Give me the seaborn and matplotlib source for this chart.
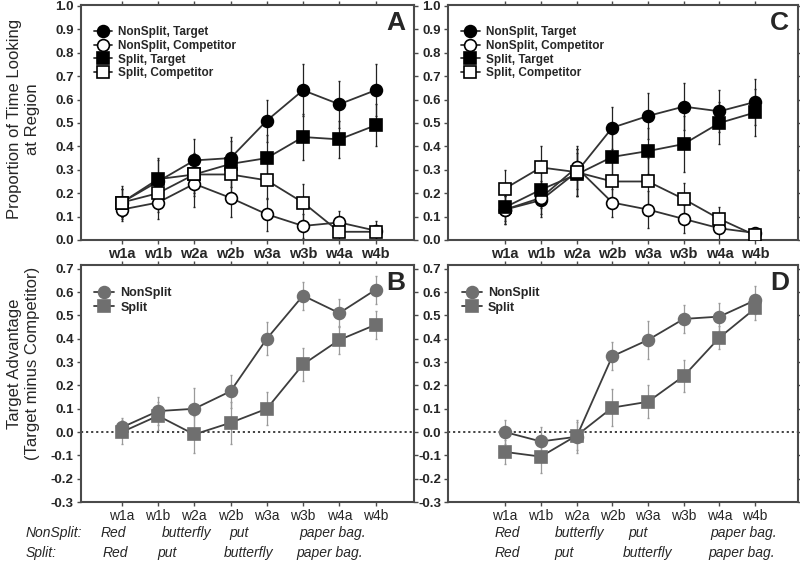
import matplotlib

matplotlib.use("Agg")
import matplotlib.pyplot as plt
import numpy as np
import pandas as pd
import seaborn as sns

# word regions on the x axis
regions = ["w1a", "w1b", "w2a", "w2b", "w3a", "w3b", "w4a", "w4b"]

# panel A: proportion of looking time (experiment 1)
a_ns_target = [0.16, 0.25, 0.34, 0.35, 0.51, 0.64, 0.58, 0.64]
a_ns_target_err = [0.06, 0.09, 0.09, 0.09, 0.09, 0.11, 0.10, 0.11]
a_ns_comp = [0.13, 0.16, 0.24, 0.18, 0.11, 0.06, 0.075, 0.04]
a_ns_comp_err = [0.05, 0.07, 0.10, 0.08, 0.07, 0.05, 0.05, 0.04]
a_sp_target = [0.16, 0.26, 0.28, 0.325, 0.35, 0.44, 0.43, 0.49]
a_sp_target_err = [0.06, 0.09, 0.09, 0.10, 0.10, 0.10, 0.08, 0.09]
a_sp_comp = [0.16, 0.20, 0.28, 0.28, 0.255, 0.16, 0.035, 0.035]
a_sp_comp_err = [0.07, 0.08, 0.08, 0.08, 0.08, 0.08, 0.04, 0.03]

# panel C: proportion of looking time (experiment 2)
c_ns_target = [0.13, 0.17, 0.29, 0.48, 0.53, 0.57, 0.55, 0.59]
c_ns_target_err = [0.06, 0.07, 0.10, 0.09, 0.10, 0.10, 0.09, 0.10]
c_ns_comp = [0.13, 0.18, 0.31, 0.16, 0.13, 0.09, 0.05, 0.03]
c_ns_comp_err = [0.06, 0.07, 0.09, 0.06, 0.08, 0.06, 0.05, 0.02]
c_sp_target = [0.14, 0.215, 0.28, 0.355, 0.38, 0.41, 0.50, 0.545]
c_sp_target_err = [0.06, 0.08, 0.09, 0.10, 0.10, 0.12, 0.09, 0.10]
c_sp_comp = [0.22, 0.31, 0.29, 0.25, 0.25, 0.175, 0.09, 0.02]
c_sp_comp_err = [0.08, 0.09, 0.10, 0.09, 0.10, 0.07, 0.05, 0.02]

# panels B and D: target advantage (target minus competitor)
b_ns = [0.02, 0.09, 0.10, 0.175, 0.40, 0.585, 0.51, 0.61]
b_ns_err = [0.04, 0.06, 0.09, 0.07, 0.07, 0.06, 0.06, 0.06]
b_sp = [0.0, 0.07, -0.01, 0.04, 0.10, 0.29, 0.395, 0.46]
b_sp_err = [0.05, 0.06, 0.08, 0.09, 0.07, 0.07, 0.06, 0.06]
d_ns = [0.0, -0.04, -0.02, 0.325, 0.395, 0.485, 0.495, 0.565]
d_ns_err = [0.05, 0.06, 0.07, 0.06, 0.08, 0.06, 0.06, 0.06]
d_sp = [-0.085, -0.105, -0.015, 0.105, 0.13, 0.24, 0.405, 0.53]
d_sp_err = [0.05, 0.07, 0.06, 0.08, 0.07, 0.07, 0.05, 0.05]

sentence_rows = ["NonSplit:", "Split:"]
words_ns = ["Red", "butterfly", "put", "paper bag."]
words_sp = ["Red", "put", "butterfly", "paper bag."]

sns.set_style("ticks")
plt.rcParams["font.family"] = ["Liberation Sans", "DejaVu Sans"]

fig = plt.figure(figsize=(8, 5.68), dpi=100)
ax_a = fig.add_axes([0.101, 0.5775, 0.416, 0.414])
ax_c = fig.add_axes([0.560, 0.5775, 0.4375, 0.414])
ax_b = fig.add_axes([0.101, 0.116, 0.416, 0.417])
ax_d = fig.add_axes([0.560, 0.116, 0.4375, 0.417])

x = np.arange(len(regions))
spine_col = "#4a4a4a"


def draw_series(ax, y, err, label, marker, face, edge, line, bar_style, bar_col, size=8):
    df = pd.DataFrame({"x": x, "y": y})
    ax.errorbar(x, y, yerr=err, fmt="none", ecolor=bar_col, elinewidth=0.9,
                capsize=1, linestyle=bar_style, zorder=2)
    sns.lineplot(data=df, x="x", y="y", ax=ax, color=line, lw=1.3, marker=marker,
                 markersize=size, markerfacecolor=face, markeredgecolor=edge,
                 markeredgewidth=1.2, label=label, zorder=3)


def style_axes(ax, ylim, yticks, xlim, letter, bold_x):
    ax.set_xlim(*xlim)
    ax.set_ylim(*ylim)
    ax.set_yticks(yticks)
    ax.set_yticklabels([f"{t:.1f}" for t in yticks], fontweight="bold", fontsize=9.5)
    ax.set_xticks(x)
    ax.set_xticklabels(regions, fontweight="bold" if bold_x else "normal",
                       fontsize=10.5 if bold_x else 10)
    ax.set_xlabel("")
    ax.set_ylabel("")
    for s in ax.spines.values():
        s.set_visible(True)
        s.set_color(spine_col)
        s.set_linewidth(1.5)
    ax.tick_params(top=True, right=True, direction="out", length=3, width=1,
                   color=spine_col, pad=2)
    ax.text(0.975, 0.975, letter, transform=ax.transAxes, ha="right", va="top",
            fontsize=19, fontweight="bold")


top_sets = [
    (ax_a, "A", (-1.13, 8.05), [(a_ns_target, a_ns_target_err), (a_ns_comp, a_ns_comp_err),
                               (a_sp_target, a_sp_target_err), (a_sp_comp, a_sp_comp_err)]),
    (ax_c, "C", (-1.6, 8.2), [(c_ns_target, c_ns_target_err), (c_ns_comp, c_ns_comp_err),
                             (c_sp_target, c_sp_target_err), (c_sp_comp, c_sp_comp_err)]),
]
top_labels = ["NonSplit, Target", "NonSplit, Competitor", "Split, Target", "Split, Competitor"]
top_markers = [("o", "black"), ("o", "white"), ("s", "black"), ("s", "white")]

for ax, letter, xlim, series in top_sets:
    for (y, err), lab, (mk, face) in zip(series, top_labels, top_markers):
        draw_series(ax, y, err, lab, mk, face, "black", "#333333", "-", "#222222",
                    size=9 if mk == "s" else 8.5)
    style_axes(ax, (0, 1.005), np.round(np.arange(0, 1.01, 0.1), 1), xlim, letter, True)
    ax.legend(loc="upper left", frameon=False, prop={"weight": "bold", "size": 8.5},
              handlelength=1.6, labelspacing=0.15, borderaxespad=0.4, handletextpad=0.5,
              bbox_to_anchor=(0.01, 0.95))

bottom_sets = [
    (ax_b, "B", (-1.13, 8.05), [(b_ns, b_ns_err), (b_sp, b_sp_err)]),
    (ax_d, "D", (-1.6, 8.2), [(d_ns, d_ns_err), (d_sp, d_sp_err)]),
]
for ax, letter, xlim, series in bottom_sets:
    ax.axhline(0, color="#333333", lw=1.3, ls=(0, (1.2, 1.6)), zorder=1)
    for (y, err), lab, mk in zip(series, ["NonSplit", "Split"], ["o", "s"]):
        draw_series(ax, y, err, lab, mk, "#6f6f6f", "#6f6f6f", "#3d3d3d", ":", "#9a9a9a",
                    size=9 if mk == "s" else 8.5)
    style_axes(ax, (-0.3, 0.715), np.round(np.arange(-0.3, 0.71, 0.1), 1), xlim, letter, False)
    ax.legend(loc="upper left", frameon=False, prop={"weight": "bold", "size": 9},
              handlelength=1.6, labelspacing=0.2, borderaxespad=0.4, handletextpad=0.5,
              bbox_to_anchor=(0.01, 0.95))

fig.text(0.03, 0.79, "Proportion of Time Looking\nat Region", rotation=90,
         ha="center", va="center", fontsize=12, linespacing=1.25)
fig.text(0.03, 0.36, "Target Advantage\n(Target minus Competitor)", rotation=90,
         ha="center", va="center", fontsize=12, linespacing=1.25)

# sentence alignment under the bottom panels
italic = {"fontsize": 10, "fontstyle": "italic", "family": ["Liberation Sans Narrow", "Liberation Sans"]}
row_y = [1 - 533 / 568, 1 - 553 / 568]
fig.text(26 / 800, row_y[0], sentence_rows[0], va="center", **italic)
fig.text(26 / 800, row_y[1], sentence_rows[1], va="center", **italic)
for words, xs_left, xs_right, yy in [
    (words_ns, [101, 162, 229, 299], [495, 555, 628, 710], row_y[0]),
    (words_sp, [103, 157, 224, 296], [495, 554, 623, 708], row_y[1]),
]:
    for w, xl, xr in zip(words, xs_left, xs_right):
        fig.text(xl / 800, yy, w, va="center", **italic)
        fig.text(xr / 800, yy, w, va="center", **italic)

fig.savefig("out.png", dpi=100)
